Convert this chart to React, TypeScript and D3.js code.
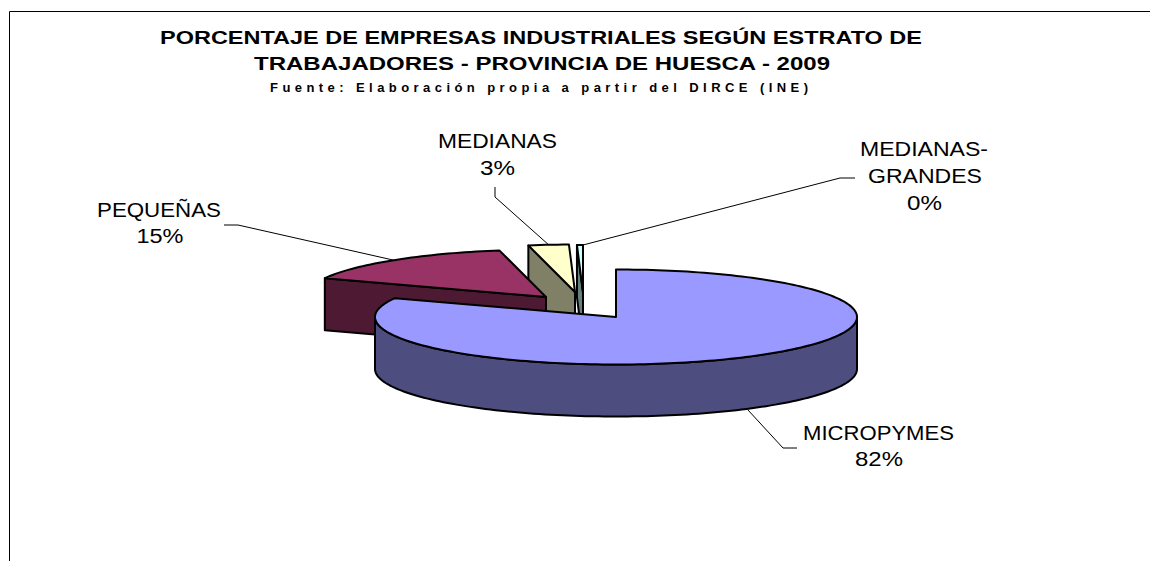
import React from "react";
import * as d3 from "d3";

// Data
const categories = ["MICROPYMES", "PEQUEÑAS", "MEDIANAS", "MEDIANAS-GRANDES"];
const values = [81.5, 15.4, 2.7, 0.4];
const percentLabels = ["82%", "15%", "3%", "0%"];
const topColors = ["#9999FF", "#993366", "#FFFFCC", "#CCFFFF"];
const sideColors = ["#4D4D80", "#4D1933", "#808066", "#668080"];
const titleLines = [
  "PORCENTAJE DE EMPRESAS INDUSTRIALES SEGÚN ESTRATO DE",
  "TRABAJADORES - PROVINCIA DE HUESCA - 2009",
];
const subtitle = "Fuente: Elaboración propia a partir del DIRCE (INE)";

// Layout
const W = 1150;
const H = 561;
const RX = 241;
const RY = 47.5;
const DEPTH = 52;
const centres: [number, number][] = [[616, 317], [546, 297], [575, 292], [583, 292.5]];
const FONT = "'Liberation Sans', Arial, sans-serif";

const pieGen = d3.pie<number>().sort(null).startAngle(0).endAngle(2 * Math.PI);
const arcs = pieGen(values);

const unitX = d3.scaleLinear().domain([-1, 1]).range([-RX, RX]);
const unitY = d3.scaleLinear().domain([-1, 1]).range([-RY, RY]);
const pt = (c: [number, number], a: number, dy = 0): [number, number] => [
  c[0] + unitX(Math.sin(a)),
  c[1] - unitY(Math.cos(a)) + dy,
];
const line = d3.line<[number, number]>();
const sweep = (c: [number, number], a0: number, a1: number, dy = 0) => {
  const n = Math.max(2, Math.ceil(Math.abs(a1 - a0) * 40));
  return d3.range(n + 1).map((i) => pt(c, a0 + ((a1 - a0) * i) / n, dy));
};

const sector = (i: number) => {
  const a = arcs[i];
  const c = centres[i];
  return line([c, ...sweep(c, a.startAngle, a.endAngle), c]) + "Z";
};
const cutFace = (i: number) => {
  const c = centres[i];
  const o = pt(c, arcs[i].startAngle);
  return line([o, c, [c[0], c[1] + DEPTH], [o[0], o[1] + DEPTH]]) + "Z";
};
const mainWall = () => {
  const c = centres[0];
  return (
    line([
      ...sweep(c, Math.PI / 2, (3 * Math.PI) / 2),
      ...sweep(c, (3 * Math.PI) / 2, Math.PI / 2, DEPTH),
    ]) + "Z"
  );
};

const leaders: [number, number][][] = [
  [[748, 410], [783, 448], [797, 448]],
  [[393, 260], [238, 225], [224, 225]],
  [[550, 246], [495, 197], [495, 187]],
  [[583, 245], [840, 178], [855, 178]],
];

const Label = ({ x, y, t, len }: { x: number; y: number; t: string; len: number }) => (
  <text
    x={x}
    y={y}
    textAnchor="middle"
    fontFamily={FONT}
    fontSize={19.5}
    fill="#000"
    textLength={len}
    lengthAdjust="spacingAndGlyphs"
  >
    {t}
  </text>
);

export default function App() {
  return (
    <svg
      width={W}
      height={H}
      viewBox={`0 0 ${W} ${H}`}
      style={{ position: "absolute", left: 0, top: 0, display: "block", background: "#fff" }}
    >
      <path d={`M9.5,${H}V11.5H${W}`} fill="none" stroke="#000" strokeWidth={1} />

      <text x={541} y={44} textAnchor="middle" fontFamily={FONT} fontWeight="bold" fontSize={17.5} textLength={762} lengthAdjust="spacingAndGlyphs">{titleLines[0]}</text>
      <text x={542} y={70} textAnchor="middle" fontFamily={FONT} fontWeight="bold" fontSize={17.5} textLength={576} lengthAdjust="spacingAndGlyphs">{titleLines[1]}</text>
      <text x={539} y={92} textAnchor="middle" fontFamily={FONT} fontWeight="bold" fontSize={13} textLength={538} lengthAdjust="spacing">{subtitle}</text>

      <g fill="none" stroke="#000" strokeWidth={1}>
        {leaders.map((l, i) => (
          <path key={i} d={line(l) ?? ""} />
        ))}
      </g>

      <g stroke="#000" strokeWidth={2} strokeLinejoin="round">
        {[3, 2, 1].map((i) => (
          <g key={categories[i]}>
            <path d={cutFace(i)} fill={sideColors[i]} />
            <path d={sector(i)} fill={topColors[i]} />
          </g>
        ))}
        <path d={mainWall()} fill={sideColors[0]} />
        <path d={sector(0)} fill={topColors[0]} />
      </g>

      <Label x={878.5} y={440} t={categories[0]} len={151} />
      <Label x={879} y={466} t={percentLabels[0]} len={48} />
      <Label x={159} y={217} t={categories[1]} len={124} />
      <Label x={160} y={243} t={percentLabels[1]} len={47} />
      <Label x={497.5} y={148} t={categories[2]} len={119} />
      <Label x={497.5} y={175} t={percentLabels[2]} len={35} />
      <Label x={924} y={156} t="MEDIANAS-" len={128} />
      <Label x={925} y={183} t="GRANDES" len={114} />
      <Label x={924.5} y={210} t={percentLabels[3]} len={35} />
    </svg>
  );
}
